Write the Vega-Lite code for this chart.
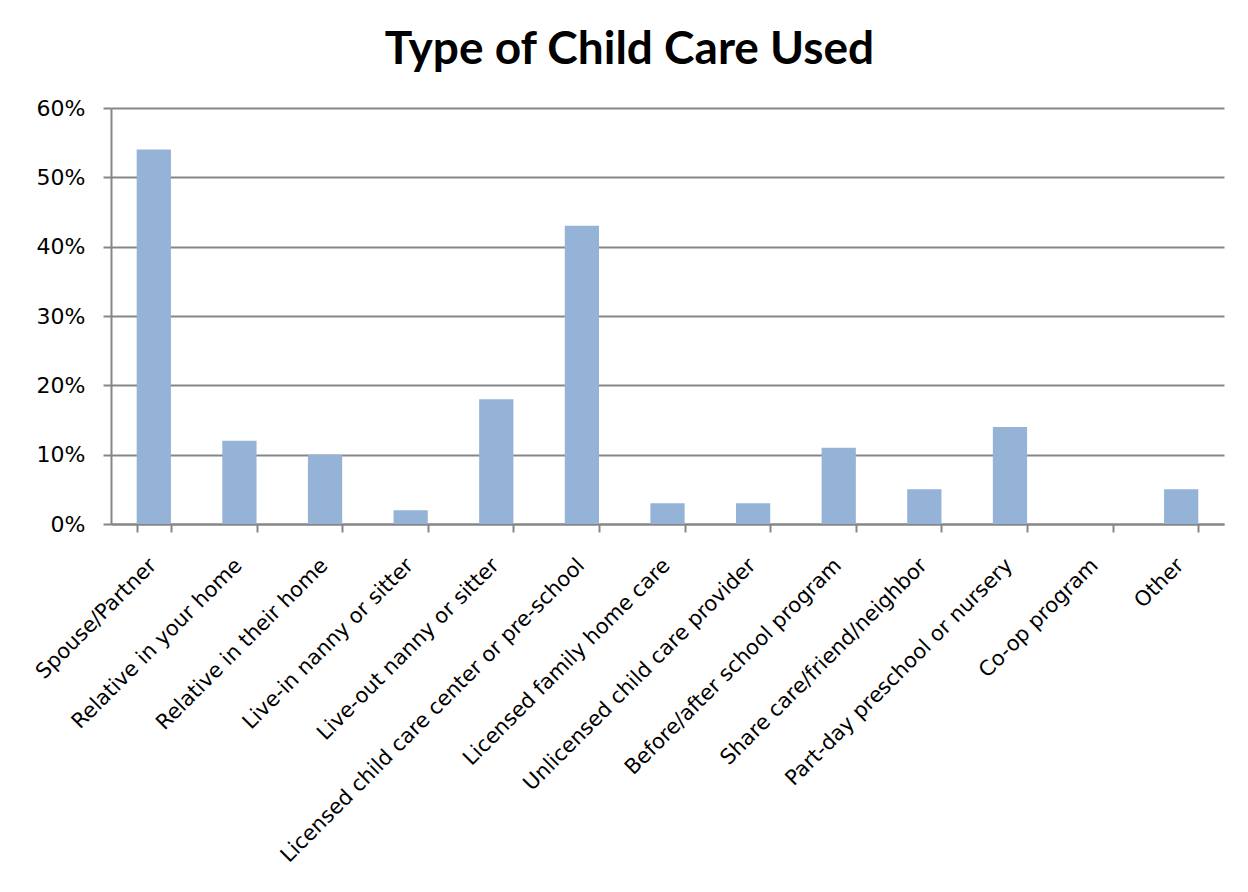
{
  "$schema": "https://vega.github.io/schema/vega-lite/v6.json",
  "width": 1113,
  "height": 416,
  "autosize": {"type": "none"},
  "padding": {"left": 111, "top": 108, "right": 24, "bottom": 368},
  "background": "white",
  "title": {
    "text": "Type of Child Care Used",
    "font": "Lato",
    "fontSize": 46,
    "fontWeight": "bold",
    "color": "black",
    "anchor": "middle",
    "dx": -38,
    "offset": 23,
    "limit": 1200
  },
  "data": {
    "values": [
      {"type": "Spouse/Partner", "pct": 0.54},
      {"type": "Relative in your home", "pct": 0.12},
      {"type": "Relative in their home", "pct": 0.10},
      {"type": "Live-in nanny or sitter", "pct": 0.02},
      {"type": "Live-out nanny or sitter", "pct": 0.18},
      {"type": "Licensed child care center or pre-school", "pct": 0.43},
      {"type": "Licensed family home care", "pct": 0.03},
      {"type": "Unlicensed child care provider", "pct": 0.03},
      {"type": "Before/after school program", "pct": 0.11},
      {"type": "Share care/friend/neighbor", "pct": 0.05},
      {"type": "Part-day preschool or nursery", "pct": 0.14},
      {"type": "Co-op program", "pct": 0.0},
      {"type": "Other", "pct": 0.05}
    ]
  },
  "mark": {"type": "bar", "color": "#95B3D7"},
  "encoding": {
    "x": {
      "field": "type",
      "type": "nominal",
      "sort": null,
      "scale": {"paddingInner": 0.6, "paddingOuter": 0.3},
      "axis": {
        "title": null,
        "labelAngle": -45,
        "labelAlign": "right",
        "labelBaseline": "middle",
        "labelFont": "DejaVu Sans",
        "labelFontSize": 21,
        "labelColor": "black",
        "labelPadding": 30,
        "labelOffset": -1,
        "labelLimit": 700,
        "domainColor": "#868686",
        "domainWidth": 2,
        "tickColor": "#868686",
        "tickWidth": 2,
        "tickSize": 8,
        "tickBand": "extent",
        "grid": false
      }
    },
    "y": {
      "field": "pct",
      "type": "quantitative",
      "scale": {"domain": [0, 0.6], "nice": false},
      "axis": {
        "title": null,
        "format": ".0%",
        "values": [0, 0.1, 0.2, 0.3, 0.4, 0.5, 0.6],
        "labelFont": "DejaVu Sans",
        "labelFontSize": 22,
        "labelColor": "black",
        "labelPadding": 18,
        "domainColor": "#868686",
        "domainWidth": 2,
        "tickColor": "#868686",
        "tickWidth": 2,
        "tickSize": 8,
        "grid": true,
        "gridColor": "#868686",
        "gridWidth": 2
      }
    }
  },
  "config": {"view": {"stroke": null}}
}
